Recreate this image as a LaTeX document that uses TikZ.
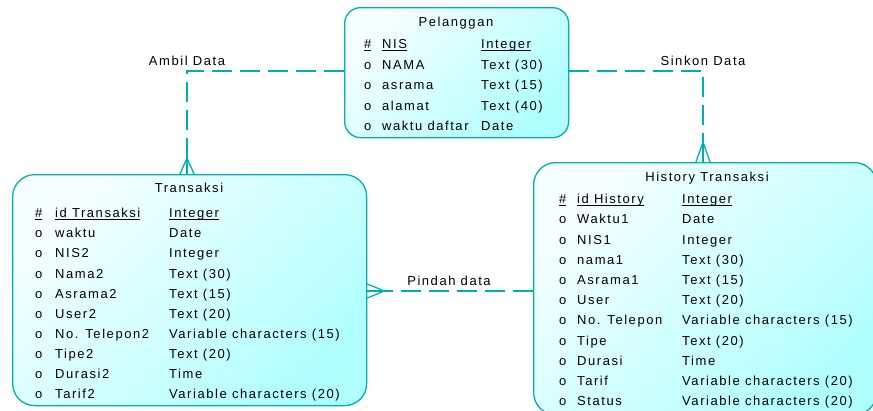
\documentclass[tikz,border=0pt]{standalone}
\usepackage{fontspec}
\setmainfont{Liberation Sans}[LetterSpace=12]
\definecolor{erline}{RGB}{0,176,176}
\definecolor{erfill}{RGB}{176,255,255}
\newcommand{\ukey}[1]{\setbox0\hbox{#1}\rlap{\rule[-2pt]{\wd0}{0.8pt}}\box0}
\tikzset{
  entity/.style={draw=erline, line width=1.3pt, rounded corners=16pt,
    top color=erfill!12, bottom color=erfill, shading angle=45, anchor=north west},
  attr/.style={anchor=west, inner sep=0pt, text height=10pt, text depth=3pt, yshift=-1.2pt,
    font=\fontsize{13}{15}\selectfont},
  rel/.style={erline, line width=2.6pt, dash pattern=on 20pt off 8pt},
  crow/.style={erline, line width=1.3pt},
}
\begin{document}
\begin{tikzpicture}[x=1pt,y=-1pt]
    \useasboundingbox (0,0) rectangle (873,410);
    \clip (0,0) rectangle (873,410);
    % Draw the entities
    \node[entity, minimum width=224pt, minimum height=130pt] (pel) at (344,7) {};
    \node[entity, minimum width=354pt, minimum height=231pt, rounded corners=22pt] (trx) at (12,174) {};
    \node[entity, minimum width=343pt, minimum height=252pt, rounded corners=22pt] (hist) at (533,162) {};

    % Pelanggan attributes
    \node[attr, anchor=center] (pel-t) at (456,22) {Pelanggan};
    \node[attr] (pel-k) at (364,44) {\ukey{\#}};
    \node[attr] (pel-kn) at (382,44) {\ukey{NIS}};
    \node[attr] (pel-kt) at (481,44) {\ukey{Integer}};
    \foreach \nm/\ty [count=\i] in {NAMA/Text (30), asrama/Text (15), alamat/Text (40), waktu daftar/Date} {
        \node[attr] (pel-o\i) at (364,44+20.5*\i) {o};
        \node[attr] (pel-n\i) at (382,44+20.5*\i) {\nm};
        \node[attr] (pel-y\i) at (481,44+20.5*\i) {\ty};
    }

    % Transaksi attributes
    \node[attr, anchor=center] (trx-t) at (189,188) {Transaksi};
    \node[attr] (trx-k) at (35,213) {\ukey{\#}};
    \node[attr] (trx-kn) at (55,213) {\ukey{id Transaksi}};
    \node[attr] (trx-kt) at (169,213) {\ukey{Integer}};
    \foreach \nm/\ty [count=\i] in {waktu/Date, NIS2/Integer, Nama2/Text (30), Asrama2/Text (15),
        User2/Text (20), No. Telepon2/Variable characters (15), Tipe2/Text (20), Durasi2/Time,
        Tarif2/Variable characters (20)} {
        \node[attr] (trx-o\i) at (35,213+20.1*\i) {o};
        \node[attr] (trx-n\i) at (55,213+20.1*\i) {\nm};
        \node[attr] (trx-y\i) at (169,213+20.1*\i) {\ty};
    }

    % History Transaksi attributes
    \node[attr, anchor=center] (hist-t) at (707,177) {History Transaksi};
    \node[attr] (hist-k) at (559,199) {\ukey{\#}};
    \node[attr] (hist-kn) at (577,199) {\ukey{id History}};
    \node[attr] (hist-kt) at (682,199) {\ukey{Integer}};
    \foreach \nm/\ty [count=\i] in {Waktu1/Date, NIS1/Integer, nama1/Text (30), Asrama1/Text (15),
        User/Text (20), No. Telepon/Variable characters (15), Tipe/Text (20), Durasi/Time,
        Tarif/Variable characters (20), Status/Variable characters (20)} {
        \node[attr] (hist-o\i) at (559,199+20.2*\i) {o};
        \node[attr] (hist-n\i) at (577,199+20.2*\i) {\nm};
        \node[attr] (hist-y\i) at (682,199+20.2*\i) {\ty};
    }

    % Draw the relationships
    \coordinate (ambil) at (187,71);
    \coordinate (sinkon) at (703,71);
    \coordinate (pindah) at (0,291);
    \draw[rel] (pel.west |- ambil) -- (ambil) -- (ambil |- trx.north);
    \draw[rel] (pel.east |- sinkon) -- (sinkon) -- (sinkon |- hist.north);
    \draw[rel] (hist.west |- pindah) -- (trx.east |- pindah);
    \node[attr, anchor=center] (lbl-ambil) at (187,61) {Ambil Data};
    \node[attr, anchor=center] (lbl-sinkon) at (703,61) {Sinkon Data};
    \node[attr, anchor=center] (lbl-pindah) at (449,281) {Pindah data};

    % Crow's feet
    \draw[crow] (ambil |- trx.north) ++(-7,0) -- ++(7,-16) -- ++(7,16);
    \draw[crow] (ambil |- trx.north) -- ++(0,-16);
    \draw[crow] (sinkon |- hist.north) ++(-7,0) -- ++(7,-20) -- ++(7,20);
    \draw[crow] (sinkon |- hist.north) -- ++(0,-20);
    \draw[crow] (trx.east |- pindah) ++(0,-7) -- ++(17,7) -- ++(-17,7);
    \draw[crow] (trx.east |- pindah) -- ++(17,0);
\end{tikzpicture}
\end{document}
